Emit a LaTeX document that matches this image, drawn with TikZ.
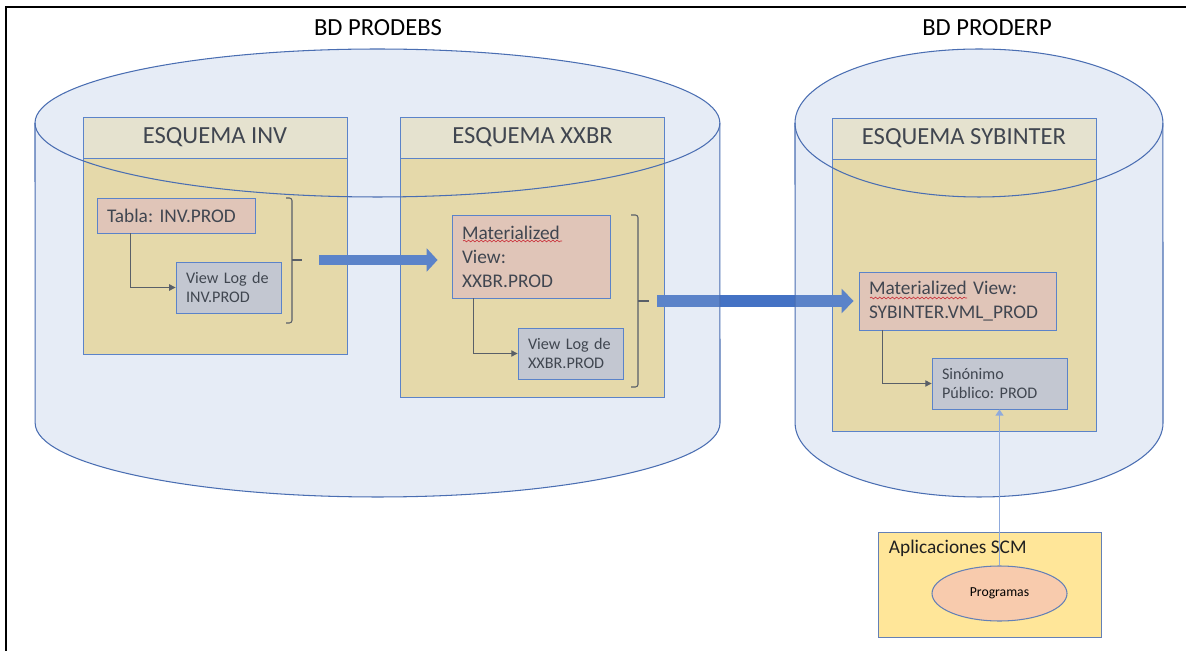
\documentclass[tikz,border=0pt]{standalone}
\usepackage{fontspec}
\setmainfont{Carlito}
\frenchspacing
\usetikzlibrary{positioning,arrows.meta,shapes.geometric,decorations.pathmorphing}
\definecolor{cylfill}{RGB}{158,181,219}
\definecolor{cylline}{RGB}{74,110,178}
\definecolor{boxline}{RGB}{68,114,196}
\definecolor{appline}{RGB}{100,128,182}
\definecolor{hdrfill}{RGB}{255,242,204}
\definecolor{bodyfill}{RGB}{255,230,153}
\definecolor{mvfill}{RGB}{248,203,173}
\definecolor{logfill}{RGB}{208,206,206}
\definecolor{thinblue}{RGB}{143,170,220}
\definecolor{txt}{RGB}{32,32,32}
\tikzset{
  hdr/.style={draw=boxline, fill=hdrfill, line width=0.5pt, minimum width=5.28cm, minimum height=0.82cm, inner sep=0pt, text=txt, font=\fontsize{14}{16}\selectfont},
  sbody/.style={draw=boxline, fill=bodyfill, line width=0.5pt, minimum width=5.28cm, inner sep=0pt},
  objbox/.style={draw=boxline, line width=0.5pt, inner xsep=0.2cm, inner ysep=0pt, align=left, text=txt},
  mv/.style={objbox, fill=mvfill, font=\fontsize{11}{13.6}\selectfont},
  vlog/.style={objbox, fill=logfill, font=\fontsize{9.2}{11.2}\selectfont},
  link/.style={draw=txt!85, line width=0.6pt, -{Triangle[width=3.6pt,length=3.6pt]}},
  brk/.style={draw=txt!85, line width=0.6pt, rounded corners=1.5pt},
  spell/.style={draw=red!85!black, line width=0.35pt, decorate, decoration={snake, amplitude=0.5pt, segment length=2.4pt}},
  cyl/.style={draw=cylline, line width=0.6pt, fill=cylfill, fill opacity=0.26},
  title/.style={font=\fontsize{14}{16}\selectfont}
}
\begin{document}
\begin{tikzpicture}[x=0.02cm, y=-0.02cm]
\useasboundingbox (0,0) rectangle (1186,651);
\draw[line width=1.1pt] (6,651) -- (6,7) -- (1186,7);
\node[title] (tPRODEBS) at (378,28) {BD PRODEBS};
\node[title] (tPRODERP) at (987,28) {BD PRODERP};

\node[hdr] (hINV) at (215,137.5) {ESQUEMA INV};
\node[sbody, minimum height=3.92cm, below=0pt of hINV] (bINV) {};
\node[hdr] (hXXBR) at (532.5,137.5) {ESQUEMA XXBR};
\node[sbody, minimum height=4.78cm, below=0pt of hXXBR] (bXXBR) {};
\node[hdr] (hSYB) at (964,138.5) {ESQUEMA SYBINTER};
\node[sbody, minimum height=5.44cm, below=0pt of hSYB] (bSYB) {};

\node[mv, text width=2.76cm, minimum height=0.70cm] (tabla) at (176,215.5) {Tabla: INV.PROD};
\node[vlog, text width=1.70cm, minimum height=1.02cm] (vlINV) at (228.5,287.5) {View Log de\\INV.PROD};
\node[mv, text width=2.76cm, minimum height=1.66cm] (mvXXBR) at (531,256.5) {Materialized\\View:\\XXBR.PROD};
\node[vlog, text width=1.70cm, minimum height=1.02cm] (vlXXBR) at (570.5,353.5) {View Log de\\XXBR.PROD};
\node[mv, text width=3.54cm, minimum height=1.16cm] (mvSYB) at (957.5,301) {Materialized View:\\SYBINTER.VML\_PROD};
\node[vlog, text width=2.30cm, minimum height=1.02cm] (sinon) at (999.5,383.5) {Sinónimo\\Público: PROD};

\draw[link] ([xshift=0.68cm]tabla.south west) |- (vlINV.west);
\draw[link] ([xshift=0.44cm]mvXXBR.south west) |- (vlXXBR.west);
\draw[link] ([xshift=0.48cm]mvSYB.south west) |- (sinon.west);

\draw[brk] (286,198) -- (292,198) -- (292,323) -- (286,323); \draw[brk] (292,260) -- (302,260);
\draw[brk] (631,215) -- (638,215) -- (638,387) -- (631,387); \draw[brk] (638,301) -- (649,301);
\coordinate (brINV) at (302,260);
\coordinate (brXXBR) at (649,301);

\draw[draw=boxline, line width=6.2pt, -{Triangle[width=13pt,length=6.2pt]}] ([xshift=0.34cm]brINV) -- ([xshift=-0.28cm]mvXXBR.west |- brINV);
\draw[draw=boxline, line width=6.8pt, -{Triangle[width=13.6pt,length=6.8pt]}] ([xshift=0.16cm]brXXBR) -- ([xshift=-0.1cm]mvSYB.west |- brXXBR);

\draw[spell] (463,241) -- (562,241);
\draw[spell] (870,298) -- (967,298);

\draw[cyl] (35,123) arc[start angle=180, end angle=0, x radius=6.85cm, y radius=1.48cm] -- (720,423) arc[start angle=0, end angle=-180, x radius=6.85cm, y radius=1.48cm] -- cycle;
\draw[cylline, line width=0.6pt] (35,123) arc[start angle=180, end angle=360, x radius=6.85cm, y radius=1.48cm];
\draw[cyl] (795,123) arc[start angle=180, end angle=0, x radius=3.68cm, y radius=1.48cm] -- (1163,423) arc[start angle=0, end angle=-180, x radius=3.68cm, y radius=1.48cm] -- cycle;
\draw[cylline, line width=0.6pt] (795,123) arc[start angle=180, end angle=360, x radius=3.68cm, y radius=1.48cm];

\node[draw=appline, fill=bodyfill, line width=0.5pt, minimum width=4.46cm, minimum height=2.10cm] (apps) at (989.5,584.5) {};
\node[anchor=base west, inner sep=0pt, text=txt, font=\fontsize{11}{13}\selectfont] (appsTxt) at ([xshift=0.22cm, yshift=-0.44cm]apps.north west) {Aplicaciones SCM};
\node[ellipse, draw=appline, fill=mvfill, line width=0.6pt, minimum width=2.70cm, minimum height=1.10cm, inner sep=0pt, font=\fontsize{7.8}{9}\selectfont] (prog) at (999.5,593.5) {Programas};
\draw[thinblue, line width=0.8pt, -{Triangle[width=4.5pt,length=3.5pt]}] (prog.north) -- (sinon.south);
\end{tikzpicture}
\end{document}
